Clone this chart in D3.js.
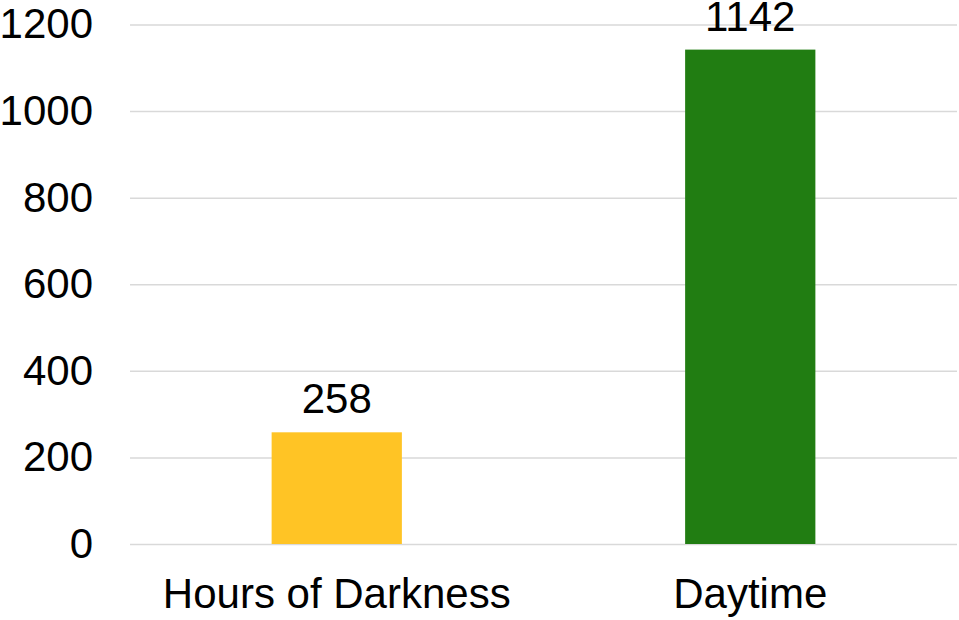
<!DOCTYPE html>
<html>
<head>
<meta charset="utf-8">
<script src="https://cdn.jsdelivr.net/npm/d3@7"></script>
<style>
  html, body { margin: 0; padding: 0; background: #fff; }
  svg { display: block; font-family: "Liberation Sans", Arial, sans-serif; }
</style>
</head>
<body>
<div class="chart"></div>
<script>
const categories = ['Hours of Darkness', 'Daytime'];
const values = [258, 1142];
const barColors = ['#ffc425', '#217d12'];
const yTicks = [0, 200, 400, 600, 800, 1000, 1200];

function displayChart() {
  const w = 959;
  const h = 620;
  const margin = {
    top: 24.5,
    right: 2,
    bottom: 76,
    left: 130
  };

  const svg = d3.select('.chart')
    .append('svg')
    .attr('width', w)
    .attr('height', h);

  const xScale = d3.scaleBand()
    .domain(categories)
    .range([margin.left, w - margin.right])
    .paddingInner(0.685)
    .paddingOuter(0.3425);

  const yScale = d3.scaleLinear()
    .domain([0, 1200])
    .range([h - margin.bottom, margin.top]);

  // gridlines + y labels
  const yAxis = svg.append('g')
    .attr('class', 'y-axis')
    .attr('transform', `translate(${margin.left}, 0)`)
    .call(d3.axisLeft(yScale)
      .tickValues(yTicks)
      .tickSize(-(w - margin.left - margin.right))
      .tickPadding(37)
      .tickFormat(d3.format('d')));

  yAxis.select('.domain').remove();
  yAxis.selectAll('.tick line')
    .attr('stroke', '#d9d9d9')
    .attr('stroke-width', 1.5);
  yAxis.selectAll('.tick text')
    .attr('fill', '#000')
    .attr('font-size', 42)
    .attr('font-family', '"Liberation Sans", Arial, sans-serif');

  // x labels
  const xAxis = svg.append('g')
    .attr('class', 'x-axis')
    .attr('transform', `translate(0, ${h - margin.bottom})`)
    .call(d3.axisBottom(xScale).tickSize(0).tickPadding(0));

  xAxis.select('.domain').remove();
  xAxis.selectAll('.tick text')
    .attr('dy', null)
    .attr('y', 64)
    .attr('fill', '#000')
    .attr('font-size', 42)
    .attr('font-family', '"Liberation Sans", Arial, sans-serif');

  svg.selectAll('rect.bar')
    .data(values)
    .enter()
    .append('rect')
    .attr('class', 'bar')
    .attr('x', (d, i) => xScale(categories[i]))
    .attr('y', (d) => yScale(d))
    .attr('width', xScale.bandwidth())
    .attr('height', (d) => yScale(0) - yScale(d))
    .attr('fill', (d, i) => barColors[i]);

  svg.selectAll('text.value')
    .data(values)
    .enter()
    .append('text')
    .attr('class', 'value')
    .attr('x', (d, i) => xScale(categories[i]) + xScale.bandwidth() / 2)
    .attr('y', (d) => yScale(d) - 19)
    .attr('text-anchor', 'middle')
    .attr('font-size', 42)
    .attr('fill', '#000')
    .text((d) => d);
}

displayChart();
</script>
</body>
</html>
